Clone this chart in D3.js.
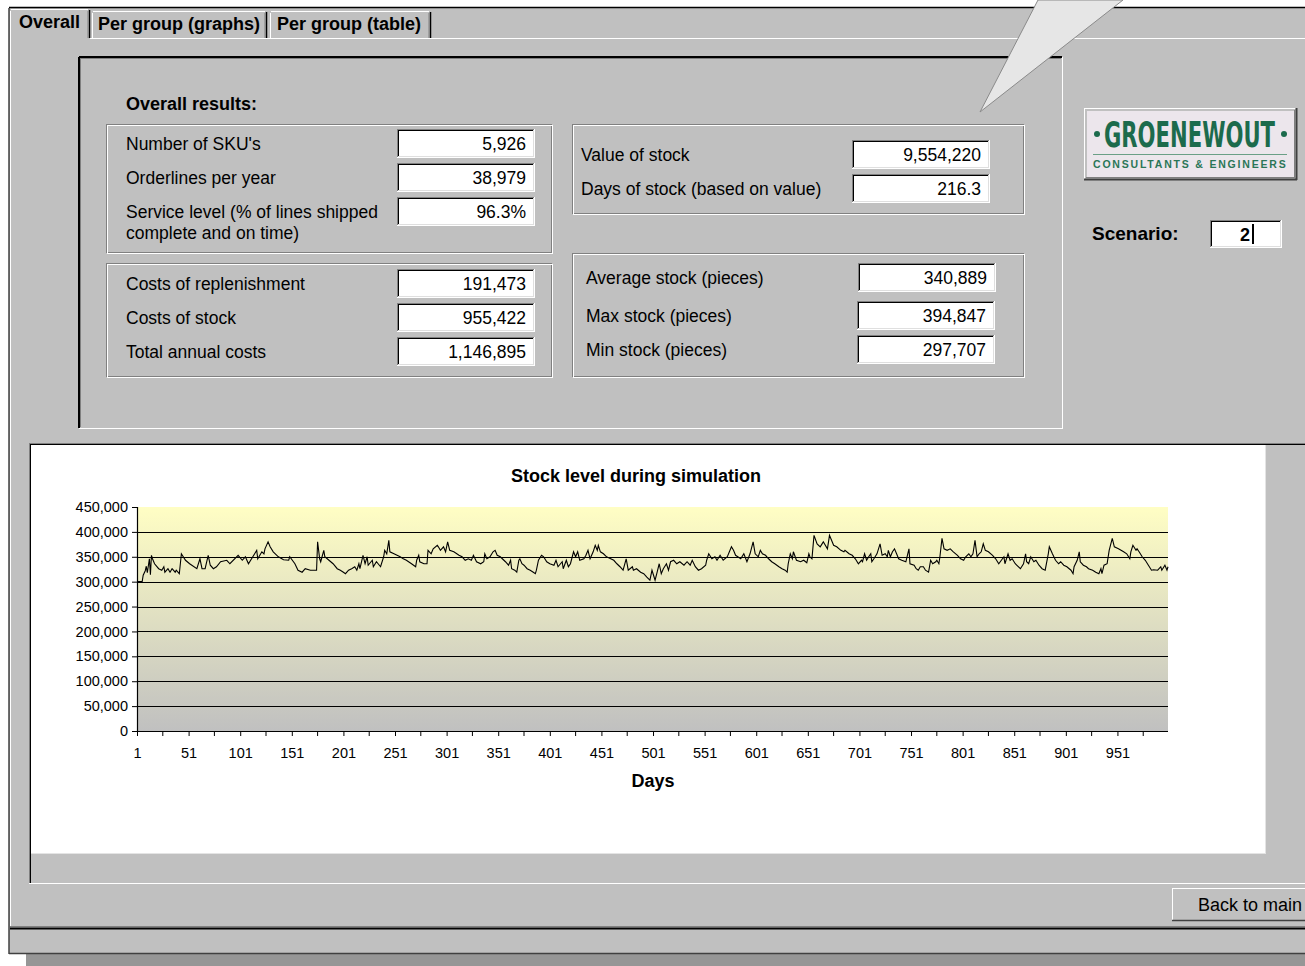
<!DOCTYPE html>
<html>
<head>
<meta charset="utf-8">
<script src="https://cdn.jsdelivr.net/npm/d3@7"></script>
<style>
  body { margin: 0; background: #fff; }
  svg { display: block; }
  text { font-family: "Liberation Sans", Arial, sans-serif; fill: #000; }
</style>
</head>
<body>
<script>
// ---- data ----
const tabNames = ['Overall', 'Per group (graphs)', 'Per group (table)'];

const leftTopLabels = ["Number of SKU's", 'Orderlines per year', 'Service level (% of lines shipped'];
const leftTopValues = ['5,926', '38,979', '96.3%'];
const leftBottomLabels = ['Costs of replenishment', 'Costs of stock', 'Total annual costs'];
const leftBottomValues = ['191,473', '955,422', '1,146,895'];
const rightTopLabels = ['Value of stock', 'Days of stock (based on value)'];
const rightTopValues = ['9,554,220', '216.3'];
const rightBottomLabels = ['Average stock (pieces)', 'Max stock (pieces)', 'Min stock (pieces)'];
const rightBottomValues = ['340,889', '394,847', '297,707'];

const yTicks = [0, 50000, 100000, 150000, 200000, 250000, 300000, 350000, 400000, 450000];
const xLabelDays = [1, 51, 101, 151, 201, 251, 301, 351, 401, 451, 501, 551, 601, 651, 701, 751, 801, 851, 901, 951];
const xMinorDays = [26, 76, 126, 176, 226, 276, 326, 376, 426, 476, 526, 576, 626, 676, 726, 776, 826, 876, 926, 976];

// [day, stock in thousands of pieces]
const stockK = [
  [1,300],[6,300],[7,313],[9,322],[10,331],[11,318],[13,346],[14,314],[15,353],[16,346],[18,336],[22,326],
  [25,323],[27,330],[28,319],[31,326],[33,319],[35,326],[38,319],[39,323],[42,316],[44,356],[48,343],[52,336],
  [59,326],[62,346],[64,326],[67,326],[70,353],[72,333],[75,326],[78,330],[82,340],[88,343],[91,336],[99,353],
  [103,343],[106,350],[109,336],[115,356],[117,363],[118,346],[122,360],[124,356],[125,366],[128,380],[130,370],
  [133,360],[138,350],[143,344],[148,343],[149,350],[154,336],[157,323],[161,319],
  [164,326],[169,323],[175,323],[176,380],[178,346],[179,340],[182,363],[183,350],[187,343],[191,336],[195,326],
  [198,323],[201,319],[203,316],[206,323],[209,326],[212,330],[214,323],[216,336],[217,326],[220,353],[222,336],
  [224,350],[225,333],[229,343],[230,330],[233,340],[237,330],[240,350],[241,363],[243,356],[245,383],[246,360],
  [250,356],[253,353],[256,350],[259,346],[262,343],[267,336],[271,330],[272,343],[274,353],[275,340],[279,336],
  [282,336],[283,363],[286,356],[288,366],[292,373],[293,370],[295,363],[298,370],[300,360],[302,380],[304,363],
  [308,360],[313,353],[316,350],[319,343],[322,346],[325,343],[327,353],[330,340],
  [334,336],[337,340],[338,356],[340,346],[343,350],[346,360],[348,363],[350,353],[353,350],[355,346],[358,340],
  [361,333],[363,343],[364,326],[367,323],[369,319],[371,343],[372,346],[374,336],[376,333],[379,326],[382,323],
  [385,319],[387,316],[388,323],[390,343],[393,353],[395,350],[398,340],[401,336],[405,333],[407,343],[409,330],
  [413,340],[414,326],[417,343],[419,330],[421,336],[424,360],[426,350],[428,360],[430,343],[434,346],[436,353],
  [438,363],[440,346],[443,360],[445,373],[447,363],[448,373],[450,360],[453,356],[456,350],[460,346],[463,343],
  [466,336],[469,330],[472,323],[475,346],[477,323],[481,330],[482,323],[485,326],[489,319],[492,316],[495,309],
  [498,303],[500,323],[503,303],[505,319],[507,336],[509,316],[511,326],[514,336],[516,323],[518,340],[521,343],
  [524,336],[527,340],[531,333],[534,340],[537,333],[539,343],[542,330],[545,323],[548,326],[552,333],[553,343],
  [555,356],[558,346],[561,350],[563,343],[566,353],[569,343],[573,350],[577,370],[579,363],[581,353],[586,346],
  [589,356],[592,340],[595,356],[598,380],[600,356],[603,350],[605,363],[607,356],[610,353],[613,346],[616,340],
  [619,336],[623,330],[626,326],[629,323],[631,319],[632,336],[634,356],[636,346],[637,360],[640,343],[644,340],
  [647,343],[650,338],[652,356],[653,350],[655,346],[657,393],[660,376],[663,370],[666,380],[670,366],[672,393],
  [676,373],[679,370],[683,363],[686,360],[687,363],[691,356],[694,353],[697,346],[700,336],[703,343],[704,340],
  [706,356],[708,343],[710,350],[712,356],[713,340],[715,346],[718,356],[721,376],[723,353],[726,356],[728,350],
  [729,363],[731,350],[733,360],[735,366],[737,356],[739,346],[742,343],[746,340],[749,366],[750,336],[754,333],
  [756,326],[758,323],[760,330],[763,330],[765,323],[768,319],[770,343],[772,336],[775,340],[776,343],[778,336],
  [779,350],[781,387],[783,366],[786,363],[789,366],[792,360],[796,353],[799,346],[802,343],[804,350],[807,356],
  [809,350],[811,356],[813,383],[815,350],[817,356],[819,360],[821,376],[823,363],[826,360],[830,353],[833,346],
  [836,336],[841,350],[842,336],[845,356],[847,343],[849,346],[852,336],[857,326],[860,336],[862,356],[863,340],
  [865,336],[867,350],[870,340],[872,343],[875,333],[878,326],[881,323],[884,356],[885,370],[888,356],[891,343],
  [894,336],[896,340],[899,333],[902,330],[906,323],[908,316],[909,330],[912,343],[914,360],[915,340],[918,333],
  [921,330],[923,326],[927,323],[930,319],[933,316],[935,326],[936,316],[938,333],[941,336],[943,363],[946,387],
  [948,370],[952,366],[957,360],[960,356],[963,346],[964,360],[966,373],[969,363],[970,366],[972,360],[975,350],
  [978,343],[981,333],[984,323],[986,324],[990,323],[993,330],[994,323],[997,333],[999,323],[1000,330]
];

const W = 1305, H = 966;
const svg = d3.select('body').append('svg').attr('width', W).attr('height', H);

function ln(x1, y1, x2, y2, c, w) {
  svg.append('line').attr('x1', x1).attr('y1', y1).attr('x2', x2).attr('y2', y2)
    .attr('stroke', c).attr('stroke-width', w || 1);
}
function txt(x, y, s, size, weight, anchor) {
  return svg.append('text').attr('x', x).attr('y', y).text(s)
    .style('font-size', size + 'px').style('font-weight', weight || 'normal')
    .attr('text-anchor', anchor || 'start');
}
// sunken edit field
function field(x, y, w, h, val) {
  svg.append('rect').attr('x', x).attr('y', y).attr('width', w).attr('height', h).attr('fill', '#fff');
  ln(x, y + 0.5, x + w, y + 0.5, '#808080');
  ln(x + 0.5, y, x + 0.5, y + h, '#808080');
  ln(x + 1, y + 1.5, x + w - 1, y + 1.5, '#000');
  ln(x + 1.5, y + 1, x + 1.5, y + h - 1, '#000');
  ln(x, y + h - 0.5, x + w, y + h - 0.5, '#fff');
  ln(x + w - 0.5, y, x + w - 0.5, y + h, '#fff');
  ln(x + 1, y + h - 1.5, x + w - 1, y + h - 1.5, '#dfdfdf');
  ln(x + w - 1.5, y + 1, x + w - 1.5, y + h - 1, '#dfdfdf');
  if (val !== undefined) txt(x + w - 9, y + h / 2 + 6, val, 17.5, 'normal', 'end');
}
// etched group frame
function etched(x, y, w, h) {
  svg.append('rect').attr('x', x + 0.5).attr('y', y + 0.5).attr('width', w - 1).attr('height', h - 1)
    .attr('fill', 'none').attr('stroke', '#808080');
  svg.append('rect').attr('x', x + 1.5).attr('y', y + 1.5).attr('width', w - 1).attr('height', h - 1)
    .attr('fill', 'none').attr('stroke', '#fff');
}

// window background
svg.append('rect').attr('x', 26).attr('y', 954).attr('width', W - 26).attr('height', 12).attr('fill', '#969696');
svg.append('rect').attr('x', 9).attr('y', 8).attr('width', W - 9).attr('height', 946).attr('fill', '#c0c0c0');
ln(9, 7.5, W, 7.5, '#000', 1.5);
ln(9, 8, 9, 954, '#404040', 1.5);
ln(9, 953.5, W, 953.5, '#404040', 1.5);

// tab control
ln(90, 38.5, W, 38.5, '#fff');
ln(10.5, 38, 10.5, 927, '#fff');
ln(10, 928.5, W, 928.5, '#000', 2);
ln(10, 926.5, W, 926.5, '#808080');
const tabs = [
  { x: 10, w: 80, top: 9, tx: 19 },
  { x: 92, w: 175, top: 11, tx: 98 },
  { x: 270, w: 161, top: 11, tx: 277 }
];
tabs.forEach((t, i) => {
  ln(t.x + 0.5, 39, t.x + 0.5, t.top + 2, '#fff');
  ln(t.x + 1, t.top + 0.5, t.x + t.w - 2, t.top + 0.5, '#fff');
  ln(t.x + t.w - 0.5, t.top + 1, t.x + t.w - 0.5, 38, '#000', 1.5);
  ln(t.x + t.w - 2, t.top + 2, t.x + t.w - 2, 38, '#808080');
  txt(t.tx, i === 0 ? 28 : 30, tabNames[i], 18, 'bold');
});

// upper panel (sunken)
ln(79, 57, 1062, 57, '#000', 2);
ln(79, 57, 79, 428, '#000', 2);
ln(80, 58.5, 1061, 58.5, '#808080');
ln(80.5, 58, 80.5, 427, '#808080');
ln(79, 428.5, 1063, 428.5, '#fff');
ln(1062.5, 57, 1062.5, 429, '#fff');

txt(126, 110, 'Overall results:', 18, 'bold');

etched(106, 124, 446, 129);
etched(106, 263, 446, 114);
etched(572, 124, 452, 90);
etched(572, 253, 452, 124);

const ltRows = [129, 163, 197];
leftTopLabels.forEach((l, i) => txt(126, ltRows[i] + 21, l, 17.5));
txt(126, 239, 'complete and on time)', 17.5);
leftTopValues.forEach((v, i) => field(397, ltRows[i], 138, 29, v));

const lbRows = [269, 303, 337];
leftBottomLabels.forEach((l, i) => txt(126, lbRows[i] + 21, l, 17.5));
leftBottomValues.forEach((v, i) => field(397, lbRows[i], 138, 29, v));

const rtRows = [140, 174];
rightTopLabels.forEach((l, i) => txt(581, rtRows[i] + 21, l, 17.5));
rightTopValues.forEach((v, i) => field(852, rtRows[i], 138, 29, v));

const rbRows = [263, 301, 335];
const rbX = [858, 857, 857];
rightBottomLabels.forEach((l, i) => txt(586, rbRows[i] + 21, l, 17.5));
rightBottomValues.forEach((v, i) => field(rbX[i], rbRows[i], 138, 29, v));

// logo
svg.append('rect').attr('x', 1084).attr('y', 108).attr('width', 213).attr('height', 72).attr('fill', '#c0c0c0');
svg.append('rect').attr('x', 1087).attr('y', 111).attr('width', 207).attr('height', 66).attr('fill', '#ece6ec');
ln(1084, 108.5, 1297, 108.5, '#fff');
ln(1084.5, 108, 1084.5, 180, '#fff');
ln(1084, 179.5, 1297, 179.5, '#404040', 2);
ln(1296.5, 108, 1296.5, 180, '#404040', 2);
ln(1086, 177.5, 1295, 177.5, '#808080');
ln(1294.5, 110, 1294.5, 178, '#808080');
svg.append('circle').attr('cx', 1097).attr('cy', 134).attr('r', 3).attr('fill', '#1c6b4c');
svg.append('circle').attr('cx', 1284).attr('cy', 134).attr('r', 3).attr('fill', '#1c6b4c');
svg.append('text').attr('x', 0).attr('y', 0).text('GROENEWOUT')
  .attr('transform', 'translate(1104,147) scale(0.87,1.3)')
  .style('font-family', '"Liberation Sans Narrow", "DejaVu Sans Condensed", sans-serif')
  .style('font-size', '27px').style('font-weight', 'bold').style('fill', '#1c6b4c');
ln(1093, 154.5, 1287, 154.5, '#6a9f86');
svg.append('text').attr('x', 1093).attr('y', 168).text('CONSULTANTS & ENGINEERS')
  .style('letter-spacing', '1.8px')
  .style('font-size', '10.5px').style('font-weight', 'bold').style('fill', '#2a7657');

// scenario
txt(1092, 240, 'Scenario:', 19, 'bold');
field(1210, 220, 72, 28);
txt(1250, 241, '2', 18, 'bold', 'end');
ln(1253, 224, 1253, 244, '#000', 2);

// chart frame
ln(29, 443.5, W, 443.5, '#808080');
ln(29, 444.5, W, 444.5, '#000');
ln(29.5, 443, 29.5, 884, '#808080');
ln(30.5, 444, 30.5, 883, '#000');
ln(29, 883.5, W, 883.5, '#fff');
svg.append('rect').attr('x', 31).attr('y', 445).attr('width', 1234).attr('height', 408).attr('fill', '#fff');
ln(1265.5, 445, 1265.5, 853, '#e4e4e4');
ln(31, 853.5, 1266, 853.5, '#e4e4e4');

// ---- the chart ----
const x = d3.scaleLinear().domain([1, 1000]).range([137, 1168]);
const y = d3.scaleLinear().domain([0, 450000]).range([731, 507]);

const defs = svg.append('defs');
const grad = defs.append('linearGradient').attr('id', 'plotBg').attr('x1', 0).attr('y1', 0).attr('x2', 0).attr('y2', 1);
grad.append('stop').attr('offset', '0%').attr('stop-color', '#fffec4');
grad.append('stop').attr('offset', '100%').attr('stop-color', '#c0c0c0');

const plot = svg.append('g');
plot.append('rect')
  .attr('x', x(1)).attr('y', y(450000))
  .attr('width', x(1000) - x(1)).attr('height', y(0) - y(450000))
  .attr('fill', 'url(#plotBg)');

plot.selectAll('line.grid')
  .data(yTicks.filter(d => d > 0 && d < 450000))
  .enter().append('line').classed('grid', true)
  .attr('x1', x(1)).attr('x2', x(1000))
  .attr('y1', d => Math.round(y(d)) + 0.5).attr('y2', d => Math.round(y(d)) + 0.5)
  .attr('stroke', '#000').attr('stroke-width', 1);

const line = d3.line()
  .x(d => x(d[0]))
  .y(d => y(d[1] * 1000));
plot.append('path').datum(stockK)
  .attr('d', line).attr('fill', 'none')
  .attr('stroke', '#000').attr('stroke-width', 1.1);

const yAxis = plot.append('g').attr('transform', `translate(${x(1)},0)`)
  .call(d3.axisLeft(y).tickValues(yTicks).tickFormat(d3.format(',')).tickSize(5).tickPadding(4));
const xAxis = plot.append('g').attr('transform', `translate(0,${y(0)})`)
  .call(d3.axisBottom(x).tickValues(xLabelDays).tickFormat(d3.format('d')).tickSize(5).tickPadding(12));
xAxis.selectAll('.minor').data(xMinorDays).enter().append('line').classed('minor', true)
  .attr('x1', d => x(d)).attr('x2', d => x(d)).attr('y1', 0).attr('y2', 5).attr('stroke', '#000');
[yAxis, xAxis].forEach(a => {
  a.select('.domain').attr('stroke', '#000').attr('stroke-width', 1.2);
  a.selectAll('.tick line').attr('stroke', '#000');
  a.selectAll('text').style('font-family', '"Liberation Sans", Arial, sans-serif')
    .style('font-size', '14.5px').attr('fill', '#000');
});
xAxis.select('.domain').attr('d', `M${x(1)},0.5H${x(1000)}`);

txt(636, 482, 'Stock level during simulation', 18, 'bold', 'middle');
txt(653, 787, 'Days', 18, 'bold', 'middle');

// back button
svg.append('rect').attr('x', 1172).attr('y', 888).attr('width', W - 1172).attr('height', 33).attr('fill', '#c0c0c0');
ln(1172, 888.5, W, 888.5, '#fff');
ln(1172.5, 888, 1172.5, 921, '#fff');
ln(1172, 920.5, W, 920.5, '#404040', 1.5);
txt(1198, 911, 'Back to main', 18);

// callout tail on top
svg.append('polygon')
  .attr('points', '1038,0 1123,0 980,112')
  .attr('fill', '#e6e6e6').attr('stroke', '#8a8a8a').attr('stroke-width', 1);
</script>
</body>
</html>
